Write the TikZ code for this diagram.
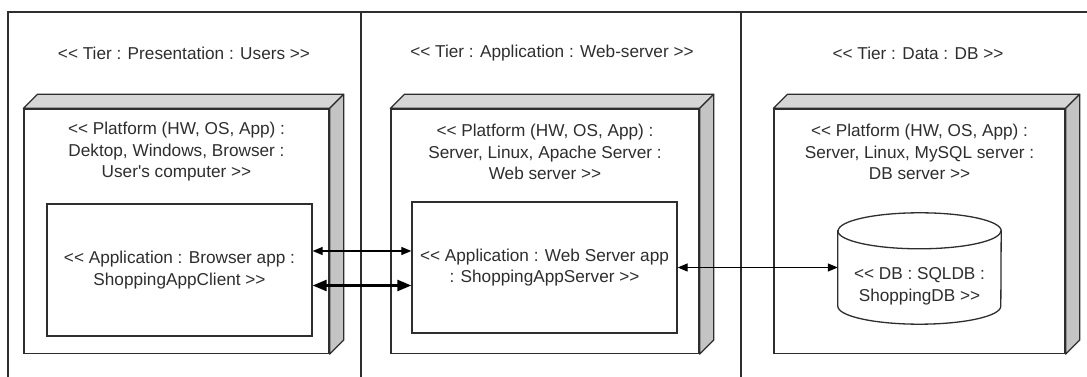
\documentclass[tikz,border=0pt]{standalone}
\usepackage{fontspec}
\setmainfont{Liberation Sans}[Ligatures=TeXOff]
\usetikzlibrary{arrows.meta,calc}
\definecolor{ink}{HTML}{2E2E2E}
\definecolor{topgray}{HTML}{D6D6D6}
\definecolor{sidegray}{HTML}{C4C4C4}
\begin{document}
\begin{tikzpicture}[x=1pt,y=1pt,
  frameline/.style={draw=ink, line width=1.1pt},
  platform/.style={draw=ink, line width=1.3pt, fill=white, inner sep=0pt},
  topface/.style={fill=topgray, draw=ink, line width=1.3pt, line join=round},
  sideface/.style={fill=sidegray, draw=ink, line width=1.3pt, line join=round},
  lbl/.style={text=ink, font=\fontsize{17.2}{21.5}\selectfont, align=center, inner sep=0pt},
  appbox/.style={draw=ink, line width=1.3pt, fill=white, inner sep=0pt, text=ink, font=\fontsize{17.2}{21.5}\selectfont, align=center, minimum width=265, minimum height=132},
  dbline/.style={draw=ink, line width=1.3pt},
  thinarrow/.style={draw=black, line width=1.2pt, {Triangle[length=10pt,width=8pt]}-{Triangle[length=10pt,width=8pt]}},
  thickarrow/.style={draw=black, line width=2.4pt, {Triangle[length=14pt,width=11pt]}-{Triangle[length=14pt,width=11pt]}}
]
\useasboundingbox (0,0) rectangle (1087,377);
% tier frame
\draw[frameline] (8,0) -- (8,365) -- (1087,365);
\draw[frameline] (361,0) -- (361,365);
\draw[frameline] (741,0) -- (741,365);
% tier labels
\node[lbl] (t1) at (184,324) {<< Tier : Presentation : Users >>};
\node[lbl] (t2) at (552,324) {<< Tier : Application : Web-server >>};
\node[lbl] (t3) at (918,324) {<< Tier : Data : DB >>};
% platforms
\foreach \n/\cx/\w in {p1/176.5/305, p2/545/308, p3/919.5/291}{
  \node[platform, minimum width=\w, minimum height=244.5] (\n) at (\cx,145.75) {};
  \draw[topface] (\n.north west) -- ++(14pt,14pt) -- ($(\n.north east)+(14pt,14pt)$) -- (\n.north east) -- cycle;
  \draw[sideface] (\n.north east) -- ++(14pt,14pt) -- ($(\n.south east)+(14pt,14pt)$) -- (\n.south east) -- cycle;
}
\node[lbl] (pt1) at (176.5,225) {<< Platform (HW, OS, App) :\\Dektop, Windows, Browser :\\User's computer >>};
\node[lbl] (pt2) at (545,225) {<< Platform (HW, OS, App) :\\Server, Linux, Apache Server :\\Web server >>};
\node[lbl] (pt3) at (919.5,225) {<< Platform (HW, OS, App) :\\Server, Linux, MySQL server :\\DB server >>};
% applications
\node[appbox] (app1) at (179.5,107) {<< Application : Browser app :\\ShoppingAppClient >>};
\node[appbox, minimum height=131] (app2) at (544.5,109.5) {<< Application : Web Server app\\: ShoppingAppServer >>};
% database
\node[inner sep=0pt, minimum width=163, minimum height=111] (db) at (919.5,108.5) {};
\draw[dbline, fill=white] ($(db.north west)+(0,-18)$) -- ($(db.south west)+(0,18)$)
   arc[start angle=180, end angle=360, x radius=81.5, y radius=18]
   -- ($(db.north east)+(0,-18)$)
   arc[start angle=0, end angle=180, x radius=81.5, y radius=18] -- cycle;
\draw[dbline] ($(db.north west)+(0,-18)$) arc[start angle=180, end angle=360, x radius=81.5, y radius=18];
\node[lbl] (dbt) at ($(db.center)+(0,-18)$) {<< DB : SQLDB :\\ShoppingDB >>};
% connectors
\draw[thinarrow] ([yshift=19pt]app1.east) -- ([yshift=19pt]app1.east -| app2.west);
\draw[thickarrow] ([yshift=-15.5pt]app1.east) -- ([yshift=-15.5pt]app1.east -| app2.west);
\draw[thinarrow] (app2.east) -- (app2.east -| db.west);
\end{tikzpicture}
\end{document}
